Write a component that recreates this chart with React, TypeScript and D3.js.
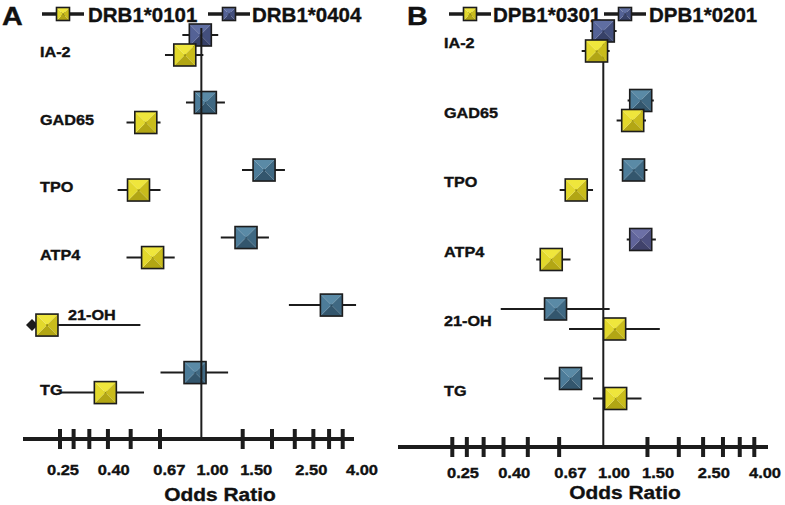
import React from "react";
import * as d3 from "d3";

// ---------- data ----------
const rows = ["IA-2", "GAD65", "TPO", "ATP4", "21-OH", "TG"];

const seriesA = ["DRB1*0101", "DRB1*0404"];
const seriesB = ["DPB1*0301", "DPB1*0201"];

// Panel A – DRB1*0101 (yellow)
const drb0101OR = [0.85, 0.58, 0.54, 0.62, 0.22, 0.39];
const drb0101Lo = [0.7, 0.48, 0.44, 0.48, 0.19, 0.25];
const drb0101Hi = [1.02, 0.67, 0.67, 0.77, 0.55, 0.57];
// Panel A – DRB1*0404 (blue)
const drb0404OR = [0.99, 1.04, 1.85, 1.55, 3.58, 0.94];
const drb0404Lo = [0.83, 0.86, 1.49, 1.21, 2.36, 0.67];
const drb0404Hi = [1.18, 1.26, 2.27, 1.94, 4.56, 1.3];

// Panel B – DPB1*0301 (yellow)
const dpb0301OR = [0.94, 1.31, 0.78, 0.62, 1.11, 1.12];
const dpb0301Lo = [0.82, 1.13, 0.67, 0.54, 0.73, 0.91];
const dpb0301Hi = [1.06, 1.48, 0.91, 0.74, 1.68, 1.42];
// Panel B – DPB1*0201 (blue)
const dpb0201OR = [1.0, 1.41, 1.32, 1.41, 0.645, 0.74];
const dpb0201Lo = [0.885, 1.25, 1.16, 1.24, 0.39, 0.58];
const dpb0201Hi = [1.13, 1.59, 1.5, 1.62, 1.06, 0.91];

// lower CI truncated (arrow) for DRB1*0101 21-OH
const truncatedLowA = ["21-OH"];

const tickValues = [0.25, 0.2857, 0.3333, 0.4, 0.5, 0.6667, 1.5, 2, 2.5, 3, 3.5, 4];
const tickLabelValues = [0.25, 0.4, 0.67, 1, 1.5, 2.5, 4];
const tickLabels = ["0.25", "0.40", "0.67", "1.00", "1.50", "2.50", "4.00"];

// ---------- styles ----------
const INK = "#1c1c1c";
const FONT = "'Liberation Sans', Arial, sans-serif";
const palettes: Record<string, string[]> = {
  // top, right, bottom, left
  yellow: ["#efe63c", "#c9bc1c", "#b2a614", "#e2d82c"],
  steel: ["#5a8aa6", "#3f6882", "#33566d", "#4d7c99"],
  navy: ["#5f6ea2", "#434f7d", "#374168", "#546296"],
  violet: ["#6c70a6", "#4d5080", "#40426b", "#60649a"],
};
const blueStyleA: Record<string, string> = { "IA-2": "navy" };
const blueStyleB: Record<string, string> = { "IA-2": "navy", ATP4: "violet" };

function Box({ cx, cy, s, pal }: { cx: number; cy: number; s: number; pal: string }) {
  const c = palettes[pal];
  const h = s / 2;
  const x0 = cx - h, y0 = cy - h, x1 = cx + h, y1 = cy + h;
  const p = (pts: number[][]) => pts.map((q) => q.join(",")).join(" ");
  return (
    <g>
      <polygon points={p([[x0, y0], [x1, y0], [cx, cy]])} fill={c[0]} />
      <polygon points={p([[x1, y0], [x1, y1], [cx, cy]])} fill={c[1]} />
      <polygon points={p([[x1, y1], [x0, y1], [cx, cy]])} fill={c[2]} />
      <polygon points={p([[x0, y1], [x0, y0], [cx, cy]])} fill={c[3]} />
      <rect x={x0} y={y0} width={s} height={s} fill="none" stroke={INK} strokeWidth={1.6} />
    </g>
  );
}

function T({ x, y, size, sx = 1.12, anchor = "start", children }: any) {
  return (
    <text
      transform={`translate(${x},${y}) scale(${sx},1)`}
      fontSize={size}
      fontWeight="bold"
      fontFamily={FONT}
      textAnchor={anchor}
      fill="#111"
      stroke="#111"
      strokeWidth={0.35}
    >
      {children}
    </text>
  );
}

type PanelCfg = {
  letter: string;
  series: string[];
  yel: { or: number[]; lo: number[]; hi: number[] };
  blu: { or: number[]; lo: number[]; hi: number[] };
  blueStyle: Record<string, string>;
  xRange: [number, number];
  labRange: [number, number];
  yRange: [number, number];
  axisY: number;
  axisX: [number, number];
  refTop: number;
  refOnTop: boolean;
  labelX: number;
  labelDy: number;
  tickLabelY: number;
  titleY: number;
  titleX: number;
  legendX: number[];
  legendTextX: number[];
  letterX: number;
  truncLow: string[];
};

function Panel({ cfg }: { cfg: PanelCfg }) {
  const x = d3.scaleLog().domain([0.25, 4]).range(cfg.xRange);
  const xl = d3.scaleLog().domain([0.25, 4]).range(cfg.labRange);
  const y = d3.scalePoint<string>().domain(rows).range(cfg.yRange);
  const S = 22;
  const off = 10;

  const refLine = (
    <line x1={x(1)} x2={x(1)} y1={cfg.refTop} y2={cfg.axisY} stroke={INK} strokeWidth={2} />
  );

  const marker = (
    key: string,
    row: string,
    i: number,
    d: { or: number[]; lo: number[]; hi: number[] },
    dy: number,
    pal: string,
    trunc: boolean
  ) => {
    const cy = (y(row) as number) + dy;
    return (
      <g key={key}>
        <line x1={x(d.lo[i])} x2={x(d.hi[i])} y1={cy} y2={cy} stroke={INK} strokeWidth={2} />
        {trunc && (
          <polygon
            points={`${x(d.lo[i]) - 6},${cy} ${x(d.lo[i])},${cy - 6} ${x(d.lo[i]) + 6},${cy} ${x(d.lo[i])},${cy + 6}`}
            fill={INK}
          />
        )}
        <Box cx={x(d.or[i])} cy={cy} s={S} pal={pal} />
      </g>
    );
  };

  return (
    <g>
      {/* letter */}
      <T x={cfg.letterX} y={25} size={25} sx={1.15}>{cfg.letter}</T>
      {/* legend */}
      {cfg.series.map((s, k) => (
        <g key={s}>
          <line x1={cfg.legendX[k] - 21} x2={cfg.legendX[k] + 21} y1={14} y2={14} stroke={INK} strokeWidth={3.5} />
          <Box cx={cfg.legendX[k]} cy={14} s={13} pal={k === 0 ? "yellow" : "navy"} />
          <T x={cfg.legendTextX[k]} y={21.5} size={20.5} sx={1.0}>{s}</T>
        </g>
      ))}
      {/* row labels */}
      {rows.map((r) =>
        cfg.letter === "A" && r === "21-OH" ? (
          <T key={r} x={68} y={320} size={14.5}>{r}</T>
        ) : (
          <T key={r} x={cfg.labelX} y={(y(r) as number) + cfg.labelDy} size={14.5}>{r}</T>
        )
      )}
      {!cfg.refOnTop && refLine}
      {rows.map((r, i) => (
        <g key={r}>
          {marker("b" + r, r, i, cfg.blu, -off, cfg.blueStyle[r] || "steel", false)}
          {marker("y" + r, r, i, cfg.yel, off, "yellow", cfg.truncLow.includes(r))}
        </g>
      ))}
      {cfg.refOnTop && refLine}
      {/* axis */}
      <line x1={cfg.axisX[0]} x2={cfg.axisX[1]} y1={cfg.axisY} y2={cfg.axisY} stroke={INK} strokeWidth={4} />
      {tickValues.map((t) => (
        <line key={t} x1={x(t)} x2={x(t)} y1={cfg.axisY - 10} y2={cfg.axisY + 10} stroke={INK} strokeWidth={4} />
      ))}
      {tickLabelValues.map((t, k) => (
        <T key={t} x={xl(t)} y={cfg.tickLabelY} size={15} sx={1.1} anchor="middle">{tickLabels[k]}</T>
      ))}
      <T x={cfg.titleX} y={cfg.titleY} size={19} sx={1.1} anchor="middle">Odds Ratio</T>
    </g>
  );
}

const cfgA: PanelCfg = {
  letter: "A",
  series: seriesA,
  yel: { or: drb0101OR, lo: drb0101Lo, hi: drb0101Hi },
  blu: { or: drb0404OR, lo: drb0404Lo, hi: drb0404Hi },
  blueStyle: blueStyleA,
  xRange: [60, 342.7],
  labRange: [63, 362],
  yRange: [45, 382.6],
  axisY: 439,
  axisX: [23, 354],
  refTop: 28,
  refOnTop: true,
  labelX: 40,
  labelDy: 12,
  tickLabelY: 475,
  titleY: 501,
  titleX: 220,
  legendX: [63, 229],
  legendTextX: [88, 252],
  letterX: 2,
  truncLow: truncatedLowA,
};

const cfgB: PanelCfg = {
  letter: "B",
  series: seriesB,
  yel: { or: dpb0301OR, lo: dpb0301Lo, hi: dpb0301Hi },
  blu: { or: dpb0201OR, lo: dpb0201Lo, hi: dpb0201Hi },
  blueStyle: blueStyleB,
  xRange: [452.3, 754.3],
  labRange: [463, 765],
  yRange: [41, 388.5],
  axisY: 447,
  axisX: [398, 768],
  refTop: 22,
  refOnTop: false,
  labelX: 444,
  labelDy: 7,
  tickLabelY: 478,
  titleY: 499,
  titleX: 625,
  legendX: [470, 625],
  legendTextX: [493, 649],
  letterX: 407,
  truncLow: [],
};

export default function App() {
  return (
    <svg
      width={785}
      height={505}
      style={{ position: "absolute", left: 0, top: 0, background: "#fff" }}
    >
      <rect width={785} height={505} fill="#fff" />
      <Panel cfg={cfgA} />
      <Panel cfg={cfgB} />
    </svg>
  );
}
